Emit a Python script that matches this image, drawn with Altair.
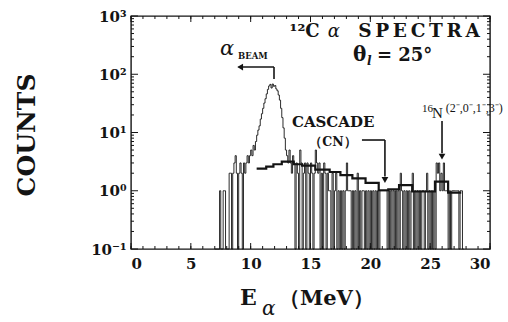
import altair as alt
import pandas as pd

# ---------------- data ----------------
E_START = 7.0          # MeV, left edge of first channel
E_STEP = 0.1           # MeV per channel
counts = [
    0, 0, 0, 0, 1, 0, 0, 1, 1, 0,          # 7.0 - 7.9
    0, 0, 2, 2, 0, 2, 3, 4, 2, 0,          # 8.0 - 8.9
    2, 3, 2, 0, 3, 2, 3, 4, 3, 4,          # 9.0 - 9.9
    5, 4, 6, 5, 7, 9, 11, 13, 17, 21,      # 10.0 - 10.9
    26, 32, 38, 46, 55, 63, 67, 58, 68, 62,  # 11.0 - 11.9
    64, 56, 52, 44, 36, 26, 18, 12, 8, 5,  # 12.0 - 12.9
    4, 3, 5, 3, 2, 4, 3, 0, 3, 2,          # 13.0 - 13.9
    0, 5, 3, 0, 2, 3, 0, 3, 2, 0,          # 14.0 - 14.9
    3, 2, 0, 2, 5, 3, 2, 3, 0, 2,          # 15.0 - 15.9
    0, 3, 2, 0, 2, 1, 1, 0, 2, 0,          # 16.0 - 16.9
    1, 2, 0, 1, 0, 1, 0, 1, 0, 1,          # 17.0 - 17.9
    3, 1, 1, 1, 0, 1, 0, 1, 0, 2,          # 18.0 - 18.9
    0, 1, 0, 1, 1, 0, 1, 0, 1, 0,          # 19.0 - 19.9
    1, 0, 1, 0, 1, 0, 1, 0, 1, 1,          # 20.0 - 20.9
    1, 1, 1, 1, 0, 1, 0, 1, 0, 1,          # 21.0 - 21.9
    0, 1, 0, 1, 0, 2, 1, 0, 1, 0,          # 22.0 - 22.9
    1, 0, 1, 0, 1, 2, 0, 1, 0, 1,          # 23.0 - 23.9
    0, 1, 0, 1, 1, 0, 1, 2, 0, 1,          # 24.0 - 24.9
    0, 1, 0, 1, 0, 3, 2, 3, 1, 2,          # 25.0 - 25.9
    1, 3, 1, 1, 1, 0, 1, 0, 1, 1,          # 26.0 - 26.9
    1, 1, 1, 1, 0, 1, 1, 0,                # 27.0 - 27.7
]

cascade_edges = [10.5, 11.3, 11.9, 12.6, 13.6, 14.3, 15.4, 16.6, 17.5, 18.5,
                 19.6, 20.7, 21.5, 22.4, 23.5, 25.4, 26.5, 27.6]
cascade_vals = [2.4, 2.6, 2.85, 3.15, 2.85, 2.7, 2.3, 2.1, 1.86, 1.63,
                1.36, 1.02, 1.06, 1.25, 0.97, 1.43, 0.93]

x_ticks = [0, 5, 10, 15, 20, 25, 30]
x_minor = list(range(0, 31))
y_ticks = [0.1, 1, 10, 100, 1000]
y_labels = ["10⁻¹", "10⁰", "10¹", "10²", "10³"]
y_minor = [m * d for d in (0.1, 1, 10, 100) for m in range(2, 10)]

# ---------------- styling ----------------
W, H = 359, 233
INK = "#141414"
SERIF = "DejaVu Serif"
FLOOR = 0.01  # empty channels are drawn on the bottom edge (clamped)
THIN = "\u2009"

xs = alt.Scale(domain=[0, 30], nice=False, zero=False)
ys = alt.Scale(type="log", domain=[0.1, 1000], nice=False, clamp=True)

parts = []
for v, lab in sorted(zip(y_ticks, y_labels), reverse=True)[:-1]:
    parts.append(f"datum.value > {v * 0.5} ? '{lab}' : ")
label_expr = "".join(parts) + "'" + y_labels[0] + "'"

XAX = alt.Axis(values=x_ticks, ticks=False, domain=False, grid=False, title=None,
               labelFont=SERIF, labelFontSize=15, labelFontWeight="bold",
               labelColor=INK, labelPadding=7, format="d")
YAX = alt.Axis(values=y_ticks, labelExpr=label_expr, ticks=False, domain=False,
               grid=False, title=None, labelFont=SERIF, labelFontSize=15,
               labelFontWeight="bold", labelColor=INK, labelPadding=5)


def X(f="E"):
    return alt.X(f"{f}:Q", scale=xs, axis=XAX)


def Y(f="C"):
    return alt.Y(f"{f}:Q", scale=ys, axis=YAX)


# ---------------- spectrum (thin step histogram) ----------------
n = len(counts)
E_vals = [round(E_START + i * E_STEP, 3) for i in range(n + 1)]
C_vals = [c if c > 0 else FLOOR for c in counts] + [FLOOR]
spec_df = pd.DataFrame({"E": E_vals, "C": C_vals})
spectrum = alt.Chart(spec_df).mark_line(
    interpolate="step-after", color=INK, strokeWidth=0.9
).encode(x=X(), y=Y())

# ---------------- cascade (thick step line) ----------------
casc_df = pd.DataFrame({"E": cascade_edges, "C": cascade_vals + [cascade_vals[-1]]})
cascade = alt.Chart(casc_df).mark_line(
    interpolate="step-after", color=INK, strokeWidth=2.2
).encode(x=X(), y=Y())

# ---------------- annotation arrows (data coordinates) ----------------
seg_df = pd.DataFrame({
    "E":  [9.0, 11.95, 19.30, 21.22, 25.99],
    "E2": [11.95, 11.95, 21.22, 21.22, 25.99],
    "C":  [133, 133, 7.43, 7.43, 15.7],
    "C2": [133, 82.8, 7.43, 1.75, 4.4],
})
segs = alt.Chart(seg_df).mark_rule(color=INK, strokeWidth=1.6).encode(
    x=X(), x2="E2:Q", y=Y(), y2="C2:Q")

head_left = alt.Chart(pd.DataFrame({"E": [9.12], "C": [133]})).mark_point(
    shape="triangle-left", filled=True, size=45, color=INK, opacity=1
).encode(x=X(), y=Y())
head_down = alt.Chart(pd.DataFrame({"E": [21.22, 25.99], "C": [1.53, 3.85]})).mark_point(
    shape="triangle-down", filled=True, size=45, color=INK, opacity=1
).encode(x=X(), y=Y())


def label(text, e, c, size, font=SERIF, weight="bold", style="normal", align="left"):
    return alt.Chart(pd.DataFrame({"E": [e], "C": [c], "t": [text]})).mark_text(
        font=font, fontSize=size, fontWeight=weight, fontStyle=style,
        align=align, baseline="alphabetic", color=INK
    ).encode(x=X(), y=Y(), text="t:N")


texts = [
    label("¹²C", 13.25, 437, 18),
    label("α", 16.95, 437, 18, style="italic", align="center", weight="normal"),
    label(THIN.join("SPECTRA"), 29.16, 437, 18.5, align="right"),
    label("θ", 18.55, 168.7, 20),
    label("l", 19.72, 144, 12, style="italic"),
    label("= 25°", 20.55, 168.7, 18),
    label("α", 7.44, 214, 21, style="italic", weight="normal"),
    label("BEAM", 8.94, 183, 8.5),
    label("CASCADE", 13.45, 12.4, 15),
    label("（CN）", 14.9, 5.87, 12.5),
    label("16", 24.32, 22.5, 11, font="Liberation Serif", weight="normal"),
    label("N", 25.15, 17.7, 15, font="Liberation Serif", weight="normal"),
    label("(2⁻,0⁻,1⁻,3⁻)", 26.3, 22.5, 12, font="Liberation Serif", weight="normal"),
]

# ---------------- inward ticks on all four sides ----------------
def xrules(vals, length, top):
    y0, y1 = (0, length) if top else (H, H - length)
    return alt.Chart(pd.DataFrame({"E": vals})).mark_rule(color=INK, strokeWidth=1).encode(
        x=X(), y=alt.value(y0), y2=alt.value(y1))


def yrules(vals, length, right):
    x0, x1 = (W, W - length) if right else (0, length)
    return alt.Chart(pd.DataFrame({"C": vals})).mark_rule(color=INK, strokeWidth=1).encode(
        y=Y(), x=alt.value(x0), x2=alt.value(x1))


ticks = [
    xrules(x_minor, 3, False), xrules(x_ticks, 6, False),
    xrules(x_minor, 3, True), xrules(x_ticks, 6, True),
    yrules(y_minor, 3, False), yrules(y_ticks, 7, False),
    yrules(y_minor, 3, True), yrules(y_ticks, 7, True),
]

# ---------------- axis titles (placed outside the plot area) ----------------
def free_text(text, x, y, size, style="normal", weight="bold", angle=0, align="left",
              baseline="alphabetic", font=SERIF):
    return alt.Chart(pd.DataFrame({"t": [text]})).mark_text(
        font=font, fontSize=size, fontWeight=weight, fontStyle=style, angle=angle,
        align=align, baseline=baseline, color=INK
    ).encode(x=alt.value(x), y=alt.value(y), text="t:N")


titles = [
    free_text("E", 109, 289, 22),
    free_text("α", 131, 299, 20, style="italic", weight="normal"),
    free_text("（MeV）", 148, 289, 21),
    free_text("COUNTS", -104, 119, 25, angle=270, align="center", baseline="middle"),
]

chart = alt.layer(
    spectrum, cascade, segs, head_left, head_down, *ticks, *texts, *titles
).properties(
    width=W, height=H,
    autosize=alt.AutoSizeParams(type="none"),
    padding={"left": 131, "top": 16, "right": 18, "bottom": 73},
    background="white",
).configure_view(stroke=INK, strokeWidth=1.4)

chart.save("out.html", embed_options={"renderer": "svg", "actions": False})
